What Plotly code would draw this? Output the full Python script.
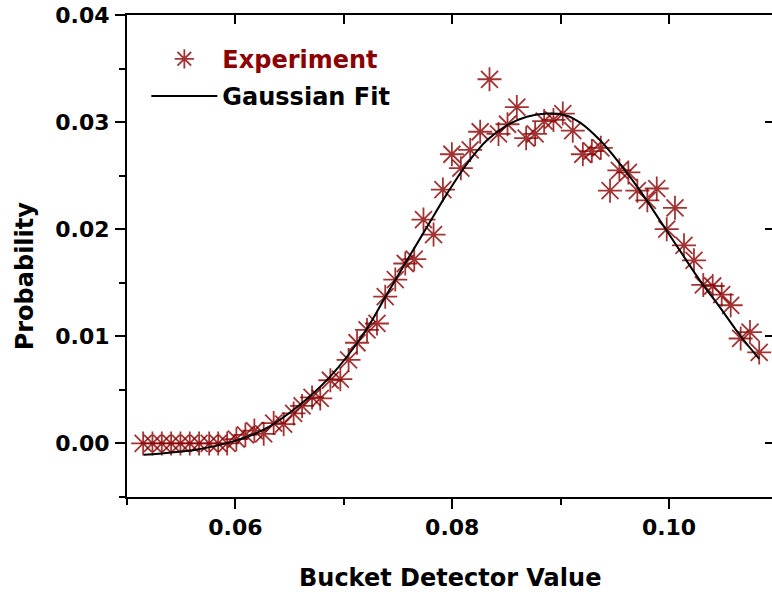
import plotly.graph_objects as go

exp_x = [0.05149, 0.05235, 0.05321, 0.05407, 0.05493, 0.05579, 0.05665, 0.05758, 0.05841, 0.05924,
         0.06009, 0.06092, 0.06175, 0.06261, 0.06353, 0.06445, 0.06537, 0.06615, 0.06707, 0.06783,
         0.06876, 0.06968, 0.07044, 0.07122, 0.07214, 0.07306, 0.07382, 0.07475, 0.07567, 0.07650,
         0.07735, 0.07828, 0.07914, 0.07997, 0.08080, 0.08166, 0.08258, 0.08344, 0.08427, 0.08510,
         0.08596, 0.08682, 0.08765, 0.08848, 0.08934, 0.09020, 0.09112, 0.09205, 0.09288, 0.09371,
         0.09456, 0.09542, 0.09625, 0.09708, 0.09800, 0.09887, 0.09979, 0.10055, 0.10138, 0.10230,
         0.10316, 0.10403, 0.10486, 0.10569, 0.10661, 0.10747, 0.10832]
exp_y = [0.0000, 0.0000, 0.0000, 0.0000, 0.0000, 0.0000, 0.0000, 0.0000, 0.0000, 0.0000,
         0.0004, 0.0008, 0.0012, 0.0009, 0.0019, 0.0018, 0.0028, 0.0035, 0.0043, 0.0042,
         0.0059, 0.0060, 0.0078, 0.0094, 0.0106, 0.0112, 0.0137, 0.0153, 0.0168, 0.0172,
         0.0209, 0.0195, 0.0237, 0.0270, 0.0257, 0.0274, 0.0291, 0.0340, 0.0289, 0.0298,
         0.0314, 0.0285, 0.0289, 0.0301, 0.0302, 0.0308, 0.0292, 0.0270, 0.0273, 0.0276,
         0.0236, 0.0255, 0.0253, 0.0236, 0.0227, 0.0238, 0.0200, 0.0220, 0.0185, 0.0171,
         0.0148, 0.0147, 0.0139, 0.0129, 0.0098, 0.0104, 0.0085]

# Gaussian fit curve
fit_x = [0.05154, 0.05647, 0.05954, 0.06261, 0.06569, 0.06876, 0.07183, 0.07390, 0.07583,
         0.07767, 0.07951, 0.08136, 0.08320, 0.08504, 0.08688, 0.08873, 0.09057, 0.09180,
         0.09364, 0.09548, 0.09733, 0.09917, 0.10101, 0.10286, 0.10470, 0.10654, 0.10832]
fit_y = [-0.00106, -0.00056, 0.00012, 0.00128, 0.00340, 0.00626, 0.01024, 0.01380, 0.01710,
         0.02020, 0.02330, 0.02610, 0.02830, 0.02970, 0.03050, 0.03080, 0.03060, 0.02995,
         0.02830, 0.02610, 0.02360, 0.02080, 0.01800, 0.01520, 0.01270, 0.01010, 0.00790]

x_ticks = [0.06, 0.08, 0.10]
x_ticktext = ["0.06", "0.08", "0.10"]
y_ticks = [0.00, 0.01, 0.02, 0.03, 0.04]
y_ticktext = ["0.00", "0.01", "0.02", "0.03", "0.04"]

FONT = "DejaVu Sans"
RED = "#8B0000"

fig = go.Figure()
fig.add_trace(go.Scatter(
    x=exp_x, y=exp_y, mode="markers",
    name="<span style='color:#8B0000'>Experiment</span>",
    legendgroup="a",
    marker=dict(symbol="asterisk-open", size=20, color=RED, opacity=0.8,
                line=dict(color=RED, width=1.8)),
))
fig.add_trace(go.Scatter(
    x=fit_x, y=fit_y, mode="lines",
    name="Gaussian Fit",
    legendgroup="b",
    line=dict(color="black", width=2, shape="spline", smoothing=1.0),
))
# helper trace for the mirrored (top/right) axes
fig.add_trace(go.Scatter(x=[], y=[], xaxis="x2", yaxis="y2", showlegend=False))

tickfont = dict(family=FONT, size=22, color="black", weight="bold")

fig.update_layout(
    width=772, height=594,
    margin=dict(l=127, r=0, t=15, b=97),
    paper_bgcolor="white", plot_bgcolor="white",
    xaxis=dict(range=[0.05, 0.1095], tickmode="array", tickvals=x_ticks, ticktext=x_ticktext,
               ticks="outside", ticklen=10, tickwidth=2, tickcolor="black",
               showline=True, linewidth=2, linecolor="black", showgrid=False, zeroline=False,
               tickfont=tickfont, ticklabelstandoff=0,
               minor=dict(tick0=0.05, dtick=0.01, ticks="outside", ticklen=6, tickwidth=2,
                          tickcolor="black", showgrid=False)),
    yaxis=dict(range=[-0.005, 0.04], tickmode="array", tickvals=y_ticks, ticktext=y_ticktext,
               ticks="outside", ticklen=10, tickwidth=2, tickcolor="black",
               showline=True, linewidth=2, linecolor="black", showgrid=False, zeroline=False,
               tickfont=tickfont, ticklabelstandoff=1,
               minor=dict(tick0=-0.005, dtick=0.005, ticks="outside", ticklen=6, tickwidth=2,
                          tickcolor="black", showgrid=False)),
    xaxis2=dict(range=[0.05, 0.1095], overlaying="x", side="top", tickmode="linear",
                tick0=0.05, dtick=0.01, ticks="inside", ticklen=9, tickwidth=2, tickcolor="black",
                showticklabels=False, showline=True, linewidth=2, linecolor="black",
                showgrid=False, zeroline=False),
    yaxis2=dict(range=[-0.005, 0.04], overlaying="y", side="right", tickmode="linear",
                tick0=0.0, dtick=0.01, ticks="inside", ticklen=7, tickwidth=2, tickcolor="black",
                showticklabels=False, showline=False, showgrid=False, zeroline=False),
    legend=dict(x=0.030, y=0.955, xanchor="left", yanchor="top", bgcolor="rgba(0,0,0,0)",
                itemwidth=66, tracegroupgap=3,
                font=dict(family=FONT, size=24, color="black", weight="bold")),
    showlegend=True,
    annotations=[
        dict(text="Probability", xref="paper", yref="paper", x=-0.158, y=0.458,
             xanchor="center", yanchor="middle", textangle=-90, showarrow=False,
             font=dict(family=FONT, size=24, color="black", weight="bold")),
        dict(text="Bucket Detector Value", xref="paper", yref="paper", x=0.5, y=-0.168,
             xanchor="center", yanchor="middle", showarrow=False,
             font=dict(family=FONT, size=24, color="black", weight="bold")),
    ],
)

fig.write_html("out.html", config={"displayModeBar": False},
               post_script="document.body.style.margin='0';document.body.style.overflow='hidden';")
